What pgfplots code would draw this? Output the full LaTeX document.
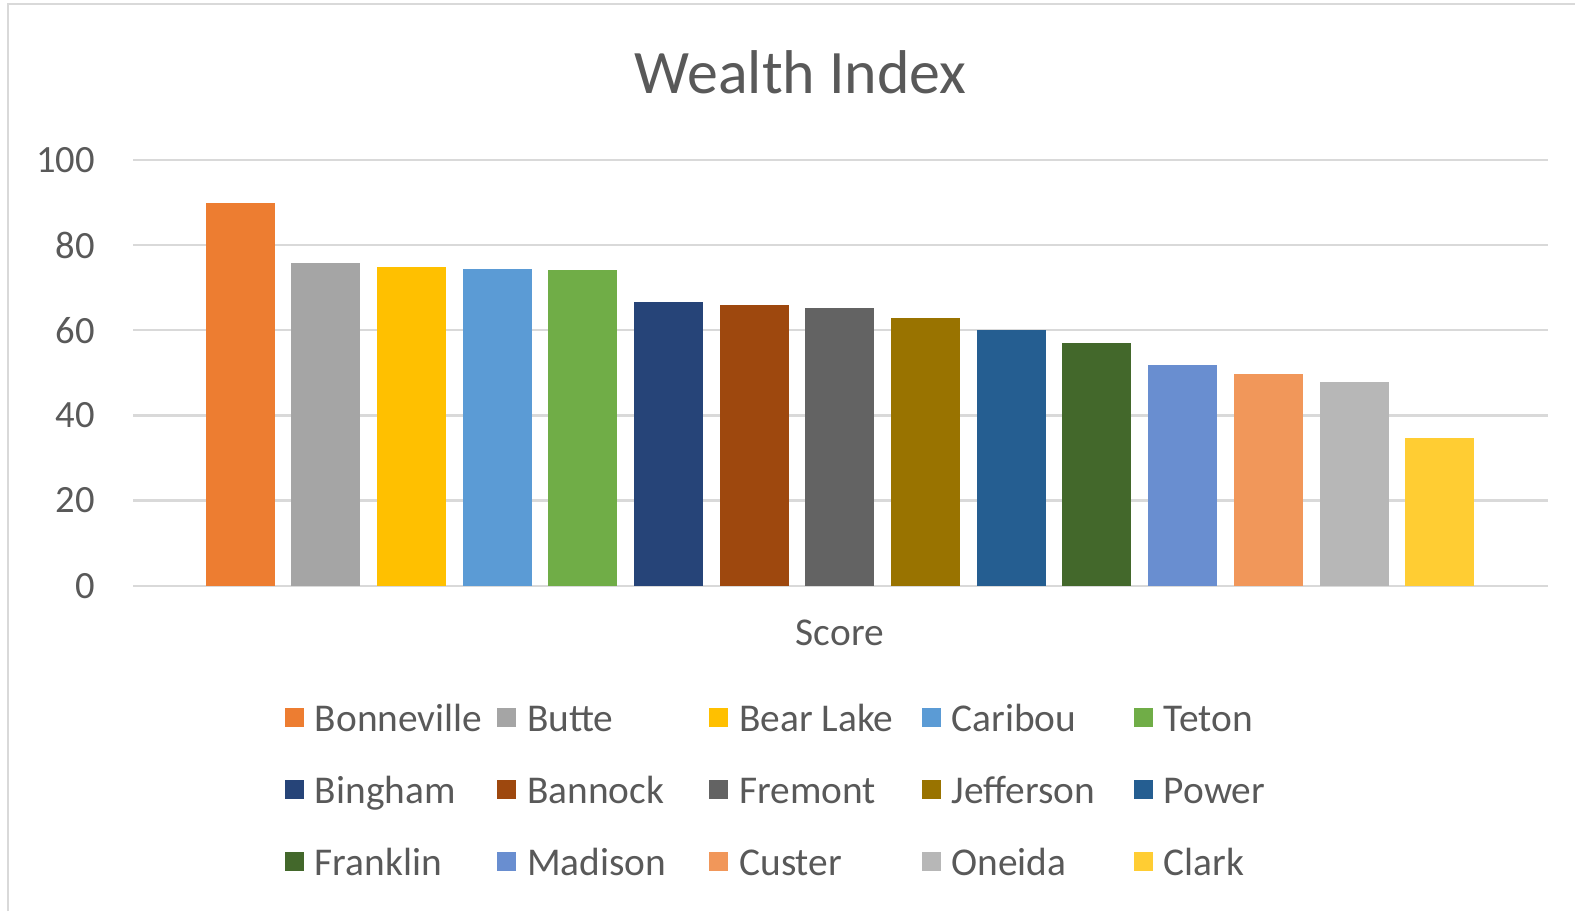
\documentclass[border=0pt]{standalone}
\usepackage{pgfplots}
\pgfplotsset{compat=1.18}
\usepackage{fontspec}
\setmainfont{Carlito}
\definecolor{txt}{HTML}{595959}
\definecolor{gridc}{HTML}{D9D9D9}
\definecolor{cBonneville}{HTML}{ED7D31}
\definecolor{cButte}{HTML}{A5A5A5}
\definecolor{cBearLake}{HTML}{FFC000}
\definecolor{cCaribou}{HTML}{5B9BD5}
\definecolor{cTeton}{HTML}{70AD47}
\definecolor{cBingham}{HTML}{264478}
\definecolor{cBannock}{HTML}{9E480E}
\definecolor{cFremont}{HTML}{636363}
\definecolor{cJefferson}{HTML}{997300}
\definecolor{cPower}{HTML}{255E91}
\definecolor{cFranklin}{HTML}{43682B}
\definecolor{cMadison}{HTML}{698ED0}
\definecolor{cCuster}{HTML}{F1975A}
\definecolor{cOneida}{HTML}{B7B7B7}
\definecolor{cClark}{HTML}{FFCD33}
\newcommand\legtext[1]{\makebox[49.1pt][l]{\hspace{2.8pt}#1\strut}}
\begin{document}
\begin{tikzpicture}
\path[use as bounding box] (0,0) rectangle (400pt,231.37pt);
\draw[gridc, line width=0.6pt] (2.03pt,0) -- (2.03pt,230.3pt) -- (400pt,230.3pt);
\node[text=txt, font=\fontsize{15.7}{19}\selectfont, anchor=base] at (203.3pt,207.6pt) {Wealth Index};
\node[text=txt, font=\fontsize{10}{12}\selectfont, anchor=base] at (213.3pt,67.35pt) {Score};
\begin{axis}[
  at={(33.778pt,82.616pt)}, anchor=south west,
  scale only axis, width=359.37pt, height=108.115pt,
  xmin=-1.249, xmax=15.264, ymin=0, ymax=100,
  ytick={0,20,...,100}, xtick=\empty,
  axis line style={draw=none},
  major tick length=0pt,
  ymajorgrids, grid style={gridc, line width=0.6pt},
  /pgf/number format/assume math mode=true,
  yticklabel style={text=txt, font=\fontsize{9.8}{12}\selectfont, inner sep=0pt, anchor=east, xshift=-9.52pt},
  every axis plot/.append style={ybar, bar width=0.805, bar shift=0pt, draw=none},
  legend columns=5,
  legend cell align=left,
  legend image code/.code={\fill[#1, draw=none] (0pt,-2.4pt) rectangle (4.8pt,2.4pt);},
  legend style={draw=none, fill=none, inner sep=0pt, outer sep=0pt, row sep=8.4pt, column sep=0pt,
    font=\fontsize{10}{12}\selectfont, text=txt, nodes={inner sep=0pt},
    at={(rel axis cs:0.1074,-0.2638)}, anchor=north west},
]
\addplot[fill=cBonneville] coordinates {(0,89.9)};
\addlegendentry{\legtext{Bonneville}}
\addplot[fill=cButte] coordinates {(1,75.7)};
\addlegendentry{\legtext{Butte}}
\addplot[fill=cBearLake] coordinates {(2,74.9)};
\addlegendentry{\legtext{Bear Lake}}
\addplot[fill=cCaribou] coordinates {(3,74.3)};
\addlegendentry{\legtext{Caribou}}
\addplot[fill=cTeton] coordinates {(4,74.2)};
\addlegendentry{\legtext{Teton}}
\addplot[fill=cBingham] coordinates {(5,66.7)};
\addlegendentry{\legtext{Bingham}}
\addplot[fill=cBannock] coordinates {(6,66.0)};
\addlegendentry{\legtext{Bannock}}
\addplot[fill=cFremont] coordinates {(7,65.2)};
\addlegendentry{\legtext{Fremont}}
\addplot[fill=cJefferson] coordinates {(8,63.0)};
\addlegendentry{\legtext{Jefferson}}
\addplot[fill=cPower] coordinates {(9,60.0)};
\addlegendentry{\legtext{Power}}
\addplot[fill=cFranklin] coordinates {(10,57.0)};
\addlegendentry{\legtext{Franklin}}
\addplot[fill=cMadison] coordinates {(11,51.9)};
\addlegendentry{\legtext{Madison}}
\addplot[fill=cCuster] coordinates {(12,49.7)};
\addlegendentry{\legtext{Custer}}
\addplot[fill=cOneida] coordinates {(13,47.9)};
\addlegendentry{\legtext{Oneida}}
\addplot[fill=cClark] coordinates {(14,34.6)};
\addlegendentry{\legtext{Clark}}
\end{axis}
\end{tikzpicture}
\end{document}
